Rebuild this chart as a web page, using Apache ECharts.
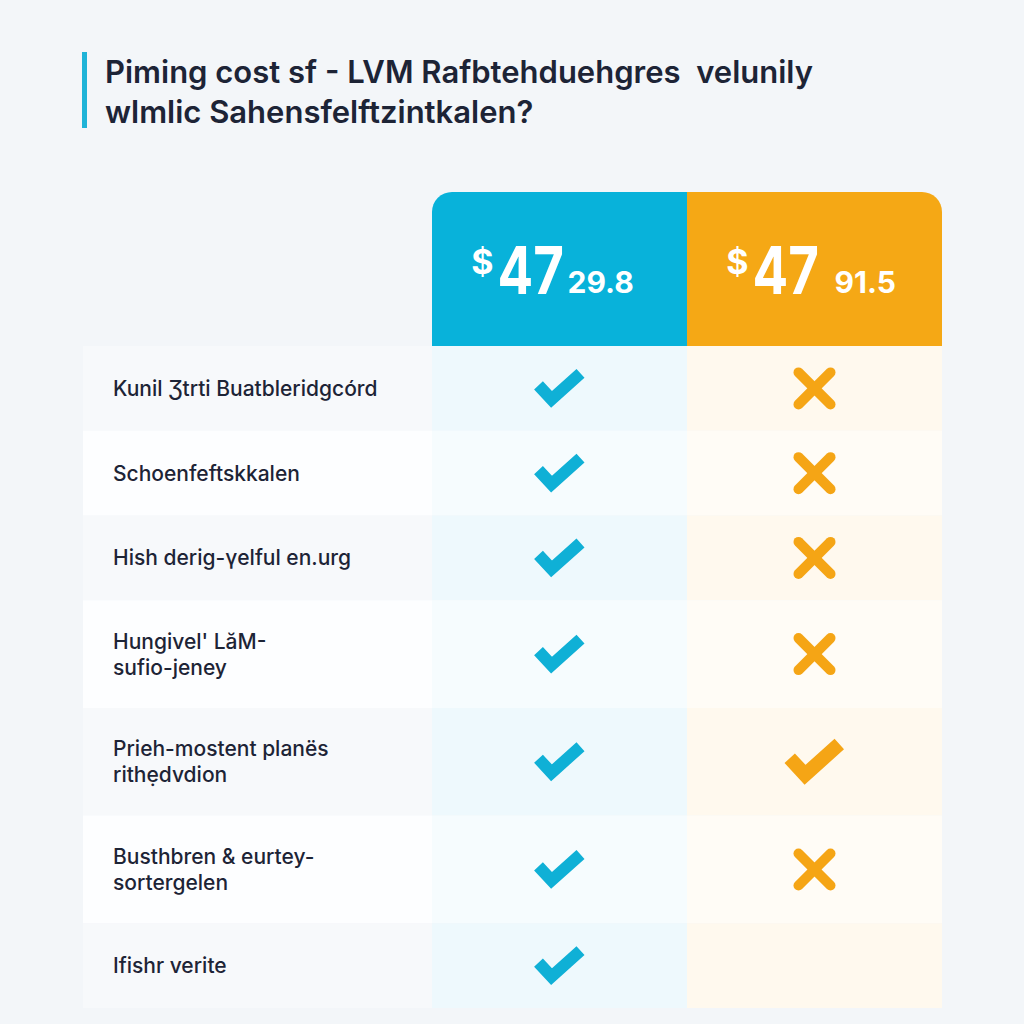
<!DOCTYPE html>
<html><head><meta charset="utf-8">
<script src="https://cdn.jsdelivr.net/npm/echarts@6/dist/echarts.min.js"></script>
<style>html,body{margin:0;padding:0;background:#f3f6f9}#c{width:1024px;height:1024px}</style>
</head><body><div id="c"></div>
<script>
// ---- data ----
const titleText = 'Piming cost sf - LVM Rafbtehduehgres  velunily\nwlmlic Sahensfelftzintkalen?';
const plans = ['Plan A', 'Plan B'];
const priceSymbol = ['$', '$'];
const priceWhole = ['47', '47'];
const priceFrac = ['29.8', '91.5'];
const features = [
  'Kunil Ʒtrti Buatbleridgcórd',
  'Schoenfeftskkalen',
  'Hish derig-γelful en.urg',
  "Hungivel' LăM-\nsufio-jeney",
  'Prieh-mostent planës\nrithẹdvdion',
  'Busthbren & eurtey-\nsortergelen',
  'Ifishr verite'
];
const planAValues = [1, 1, 1, 1, 1, 1, 1];   // 1 = included (check), 0 = not included (cross), null = blank
const planBValues = [0, 0, 0, 0, 1, 0, null];

// ---- styles / layout ----
const FONT = 'Inter, "Noto Sans", sans-serif';
const planColors = ['#08b2da', '#f5a815'];
const markColors = ['#0fb0d6', '#f5a515'];
const tints = [['#eef9fd', '#f6fcfe'], ['#fff9ee', '#fffcf6']];
const labelTints = ['#f7f9fb', '#fdfeff'];
const LABEL_COL_W = 349;
const HEADER_H = 154;

// row extents derived from number of label lines
const rowWeight = features.map(f => f.split('\n').length > 1 ? 1.27 : 1);
const rowStart = [], rowEnd = [];
let acc = 0;
rowWeight.forEach(w => { rowStart.push(acc); acc += w; rowEnd.push(acc); });
const totalW = acc;

const chart = echarts.init(document.getElementById('c'), null, { renderer: 'svg' });

function renderRow(params, api) {
  const i = api.value(3);
  const y0 = api.coord([0, api.value(1)])[1];
  const y1 = api.coord([0, api.value(2)])[1];
  const bw = api.size([1, 0])[0];
  const left = api.coord([0, 0])[0] - bw / 2;
  const even = i % 2 === 0 ? 0 : 1;
  const children = [{
    type: 'rect', shape: { x: left - LABEL_COL_W, y: y0, width: LABEL_COL_W, height: y1 - y0 },
    style: { fill: labelTints[even] }
  }];
  for (let p = 0; p < plans.length; p++) {
    const c = api.coord([p, 0])[0];
    children.push({ type: 'rect', shape: { x: c - bw / 2, y: y0, width: bw, height: y1 - y0 },
      style: { fill: tints[p][even] } });
  }
  children.push({ type: 'text', style: {
    text: features[i], x: left - LABEL_COL_W + 30, y: (y0 + y1) / 2,
    align: 'left', verticalAlign: 'middle', fontSize: 21, lineHeight: 26,
    fontFamily: FONT, fontWeight: 500, fill: '#1d2436' } });
  return { type: 'group', children };
}

function renderHeader(params, api) {
  const i = api.value(2);
  const c = api.coord([i, 0])[0];
  const yTop = api.coord([i, 0])[1];
  const bw = api.size([1, 0])[0];
  const top = yTop - HEADER_H;
  const r = i === 0 ? [20, 0, 0, 0] : [0, 20, 0, 0];
  const txt = { fill: '#ffffff', fontFamily: FONT, fontWeight: 700, verticalAlign: 'middle' };
  return { type: 'group', children: [
    { type: 'rect', shape: { x: c - bw / 2, y: top, width: bw, height: HEADER_H, r },
      style: { fill: planColors[i] } },
    { type: 'text', x: c - 66, y: top + 69,
      style: Object.assign({ text: priceSymbol[i], x: 0, y: 0, align: 'right', fontSize: 34 }, txt) },
    { type: 'text', x: c - 62, y: top + 78, scaleX: 0.8,
      style: Object.assign({ text: priceWhole[i], x: 0, y: 0, align: 'left', fontSize: 66 }, txt) },
    { type: 'text', x: c + 8 + i * 12, y: top + 90,
      style: Object.assign({ text: priceFrac[i], x: 0, y: 0, align: 'left', fontSize: 30 }, txt) }
  ] };
}

function renderMark(params, api) {
  const p = api.value(0);
  const v = api.value(2);
  const [cx, cy] = api.coord([p, api.value(1)]);
  const col = markColors[p];
  if (v === 1) {
    const k = p === 0 ? 1 : 1.18;
    return { type: 'polyline', shape: { points: [[cx - 21 * k, cy - 3 * k], [cx - 8 * k, cy + 11 * k], [cx + 21 * k, cy - 15 * k]] },
      style: { stroke: col, lineWidth: 12 * k, fill: null, lineCap: 'butt', lineJoin: 'miter' } };
  }
  const s = 16;
  return { type: 'group', children: [
    { type: 'line', shape: { x1: cx - s, y1: cy - s, x2: cx + s, y2: cy + s }, style: { stroke: col, lineWidth: 10, lineCap: 'round' } },
    { type: 'line', shape: { x1: cx - s, y1: cy + s, x2: cx + s, y2: cy - s }, style: { stroke: col, lineWidth: 10, lineCap: 'round' } }
  ] };
}

const rowData = features.map((f, i) => [0, rowStart[i], rowEnd[i], i]);
const headerData = plans.map((p, i) => [i, 0, i]);
const markData = [];
[planAValues, planBValues].forEach((vals, p) => {
  vals.forEach((v, r) => { if (v !== null) markData.push([p, (rowStart[r] + rowEnd[r]) / 2, v]); });
});

chart.setOption({
  backgroundColor: '#f3f6f9',
  animation: false,
  title: {
    text: titleText, left: 105, top: 51, padding: 0,
    textStyle: { fontSize: 31, lineHeight: 40, fontWeight: 600, color: '#1d2436', fontFamily: FONT }
  },
  graphic: [{ type: 'rect', shape: { x: 82, y: 52, width: 5, height: 76 }, style: { fill: '#1fb4d8' } }],
  grid: { left: 432, right: 82, top: 346, bottom: 16 },
  xAxis: { type: 'category', data: plans, show: false, boundaryGap: true },
  yAxis: { type: 'value', inverse: true, min: 0, max: totalW, show: false },
  series: [
    { type: 'custom', clip: false, renderItem: renderRow, data: rowData, encode: { x: 0, y: 1 }, silent: true, z: 1 },
    { type: 'custom', clip: false, renderItem: renderHeader, data: headerData, encode: { x: 0, y: 1 }, silent: true, z: 2 },
    { type: 'custom', clip: false, renderItem: renderMark, data: markData, encode: { x: 0, y: 1 }, silent: true, z: 3 }
  ]
});
</script></body></html>
